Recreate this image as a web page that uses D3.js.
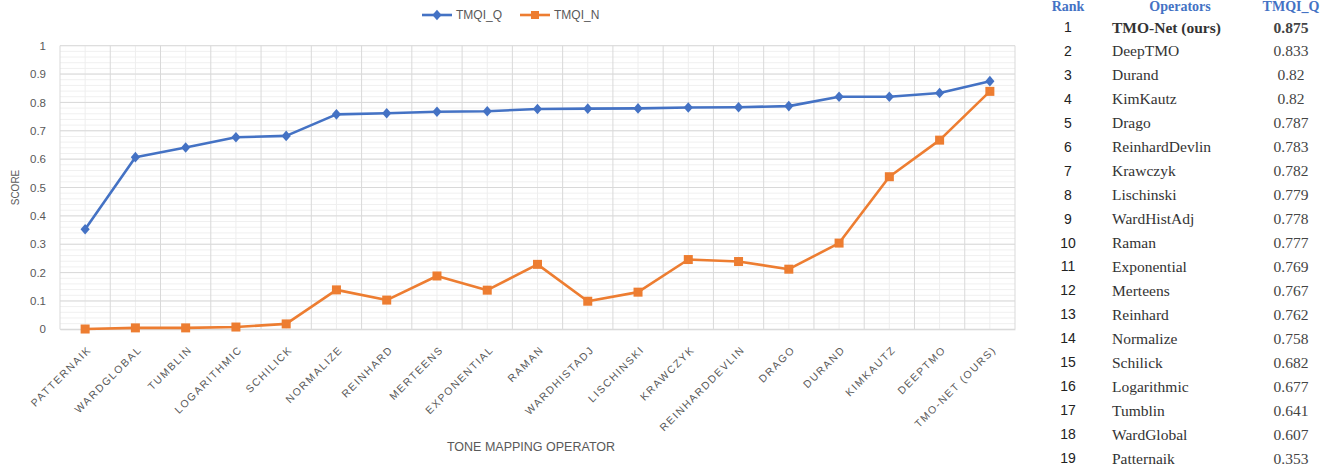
<!DOCTYPE html>
<html>
<head>
<meta charset="utf-8">
<script src="https://cdn.jsdelivr.net/npm/d3@7"></script>
<style>
  html, body { margin: 0; padding: 0; background: #fff; }
  svg { display: block; }
</style>
</head>
<body>
<svg id="chart" width="1339" height="467"></svg>
<script>
// Tone mapping operators, in the order they appear along the x axis
const categories = [
  "Patternaik", "WardGlobal", "Tumblin", "Logarithmic", "Schilick",
  "Normalize", "Reinhard", "Merteens", "Exponential", "Raman",
  "WardHistAdj", "Lischinski", "Krawczyk", "ReinhardDevlin", "Drago",
  "Durand", "KimKautz", "DeepTMO", "TMO-Net (ours)"
];

// TMQI structural fidelity score (Q)
const tmqiQ = [
  0.353, 0.607, 0.641, 0.677, 0.682,
  0.758, 0.762, 0.767, 0.769, 0.777,
  0.778, 0.779, 0.782, 0.783, 0.787,
  0.82, 0.82, 0.833, 0.875
];

// TMQI naturalness score (N)
const tmqiN = [
  0.001, 0.005, 0.005, 0.008, 0.019,
  0.139, 0.103, 0.188, 0.138, 0.229,
  0.099, 0.131, 0.246, 0.239, 0.212,
  0.304, 0.538, 0.667, 0.839
];

const seriesNames = ["TMQI_Q", "TMQI_N"];
const yTicks = [0, 0.1, 0.2, 0.3, 0.4, 0.5, 0.6, 0.7, 0.8, 0.9, 1];
const tableHeaders = ["Rank", "Operators", "TMQI_Q"];

const BLUE = "#4472C4";
const ORANGE = "#ED7D31";
const TEXT = "#595959";

const svg = d3.select("#chart");

// ---- plot area ----
const plot = { left: 60, right: 1015, top: 45.7, bottom: 329.3 };

const x = d3.scaleBand().domain(categories).range([plot.left, plot.right]);
const cx = c => x(c) + x.bandwidth() / 2;
const y = d3.scaleLinear().domain([0, 1]).range([plot.bottom, plot.top]);

const grid = svg.append("g");

// minor horizontal gridlines every 0.02
grid.selectAll("line.hmin")
  .data(d3.range(0, 51).map(i => i / 50))
  .join("line")
  .attr("x1", plot.left).attr("x2", plot.right)
  .attr("y1", d => y(d)).attr("y2", d => y(d))
  .attr("stroke", "#f0f0f0").attr("stroke-width", 1);

// minor vertical gridlines through each category
grid.selectAll("line.vmin")
  .data(categories)
  .join("line")
  .attr("x1", d => cx(d)).attr("x2", d => cx(d))
  .attr("y1", plot.top).attr("y2", plot.bottom)
  .attr("stroke", "#eeeeee").attr("stroke-width", 1);

// major vertical gridlines at category boundaries
grid.selectAll("line.vmaj")
  .data(categories.map(c => x(c)).concat([plot.right]))
  .join("line")
  .attr("x1", d => d).attr("x2", d => d)
  .attr("y1", plot.top).attr("y2", plot.bottom)
  .attr("stroke", "#d9d9d9").attr("stroke-width", 1);

// major horizontal gridlines
grid.selectAll("line.hmaj")
  .data(yTicks)
  .join("line")
  .attr("x1", plot.left).attr("x2", plot.right)
  .attr("y1", d => y(d)).attr("y2", d => y(d))
  .attr("stroke", "#d9d9d9").attr("stroke-width", 1);

// ---- y axis ----
const yAxis = d3.axisLeft(y)
  .tickValues(yTicks)
  .tickSize(0)
  .tickPadding(14)
  .tickFormat(d => String(+d.toFixed(1)));

const yg = svg.append("g")
  .attr("transform", `translate(${plot.left},0)`)
  .call(yAxis);
yg.select(".domain").remove();
yg.selectAll("text")
  .attr("fill", TEXT)
  .style("font-family", "'Liberation Sans', Arial, sans-serif")
  .style("font-size", "11.5px");

svg.append("text")
  .attr("transform", `translate(15,${(plot.top + plot.bottom) / 2}) rotate(-90)`)
  .attr("text-anchor", "middle")
  .attr("dominant-baseline", "central")
  .attr("fill", TEXT)
  .style("font-family", "'Liberation Sans', Arial, sans-serif")
  .style("font-size", "10px")
  .text("SCORE");

// ---- x axis ----
const xAxis = d3.axisBottom(x).tickSize(0).tickFormat(d => d.toUpperCase());
const xg = svg.append("g")
  .attr("transform", `translate(0,${plot.bottom})`)
  .call(xAxis);
xg.select(".domain").attr("stroke", "#d9d9d9");
xg.selectAll(".tick text")
  .attr("fill", TEXT)
  .attr("text-anchor", "end")
  .attr("y", 0).attr("dy", 0)
  .attr("transform", "translate(7,21) rotate(-45)")
  .style("font-family", "'Liberation Sans', Arial, sans-serif")
  .style("font-size", "10.5px")
  .style("letter-spacing", "1.6px");

svg.append("text")
  .attr("x", 531).attr("y", 447)
  .attr("text-anchor", "middle")
  .attr("dominant-baseline", "central")
  .attr("fill", TEXT)
  .style("font-family", "'Liberation Sans', Arial, sans-serif")
  .style("font-size", "12.5px")
  .text("TONE MAPPING OPERATOR");

// ---- series ----
const line = d3.line().x((d, i) => cx(categories[i])).y(d => y(d));

svg.append("path")
  .datum(tmqiN)
  .attr("d", line)
  .attr("fill", "none")
  .attr("stroke", ORANGE)
  .attr("stroke-width", 2.6)
  .attr("stroke-linejoin", "round");

svg.selectAll("rect.nmark")
  .data(tmqiN)
  .join("rect")
  .attr("x", (d, i) => cx(categories[i]) - 4.5)
  .attr("y", d => y(d) - 4.5)
  .attr("width", 9).attr("height", 9)
  .attr("fill", ORANGE);

svg.append("path")
  .datum(tmqiQ)
  .attr("d", line)
  .attr("fill", "none")
  .attr("stroke", BLUE)
  .attr("stroke-width", 2.6)
  .attr("stroke-linejoin", "round");

const diamond = "M0,-5.3L4.6,0L0,5.3L-4.6,0Z";
svg.selectAll("path.qmark")
  .data(tmqiQ)
  .join("path")
  .attr("transform", (d, i) => `translate(${cx(categories[i])},${y(d)})`)
  .attr("d", diamond)
  .attr("fill", BLUE);

// ---- legend ----
const legend = svg.append("g").attr("transform", "translate(422,15)");
const legendItems = [
  { name: seriesNames[0], color: BLUE, shape: "diamond", dx: 0 },
  { name: seriesNames[1], color: ORANGE, shape: "square", dx: 98 }
];
legendItems.forEach(item => {
  const g = legend.append("g").attr("transform", `translate(${item.dx},0)`);
  g.append("line").attr("x1", 0).attr("x2", 30).attr("y1", 0).attr("y2", 0)
    .attr("stroke", item.color).attr("stroke-width", 2.6);
  if (item.shape === "diamond") {
    g.append("path").attr("d", diamond).attr("transform", "translate(15,0)").attr("fill", item.color);
  } else {
    g.append("rect").attr("x", 11).attr("y", -4).attr("width", 8).attr("height", 8).attr("fill", item.color);
  }
  g.append("text").attr("x", 34).attr("y", 0)
    .attr("dominant-baseline", "central")
    .attr("fill", TEXT)
    .style("font-family", "'Liberation Sans', Arial, sans-serif")
    .style("font-size", "12px")
    .text(item.name);
});

// ---- ranking table (sorted by TMQI_Q, best first) ----
const ranked = d3.range(categories.length)
  .map(i => ({ name: categories[i], q: tmqiQ[i] }))
  .sort((a, b) => b.q - a.q)
  .map((d, i) => ({ rank: i + 1, ...d }));

const col = { rank: 1068, name: 1112, score: 1291 };
const rowY = d3.scalePoint().domain(ranked.map(d => d.rank)).range([27, 458]);

const table = svg.append("g");
const serif = "'Liberation Serif', 'Times New Roman', serif";

table.selectAll("text.head")
  .data(tableHeaders)
  .join("text")
  .attr("x", (d, i) => [col.rank, 1180, col.score][i])
  .attr("y", 11)
  .attr("text-anchor", "middle")
  .attr("fill", BLUE)
  .style("font-family", serif)
  .style("font-weight", "bold")
  .style("font-size", "14px")
  .text(d => d);

const rows = table.selectAll("g.row")
  .data(ranked)
  .join("g")
  .attr("transform", d => `translate(0,${rowY(d.rank)})`);

rows.append("text")
  .attr("x", col.rank)
  .attr("text-anchor", "middle")
  .attr("dominant-baseline", "central")
  .attr("fill", "#222")
  .style("font-family", "'Liberation Sans', Arial, sans-serif")
  .style("font-size", "14px")
  .text(d => d.rank);

rows.append("text")
  .attr("x", col.name)
  .attr("dominant-baseline", "central")
  .attr("fill", "#333")
  .style("font-family", serif)
  .style("font-size", "15.5px")
  .style("font-weight", d => d.rank === 1 ? "bold" : "normal")
  .text(d => d.name);

rows.append("text")
  .attr("x", col.score)
  .attr("text-anchor", "middle")
  .attr("dominant-baseline", "central")
  .attr("fill", "#444")
  .style("font-family", serif)
  .style("font-size", "15.5px")
  .style("font-weight", d => d.rank === 1 ? "bold" : "normal")
  .text(d => String(d.q));
</script>
</body>
</html>
